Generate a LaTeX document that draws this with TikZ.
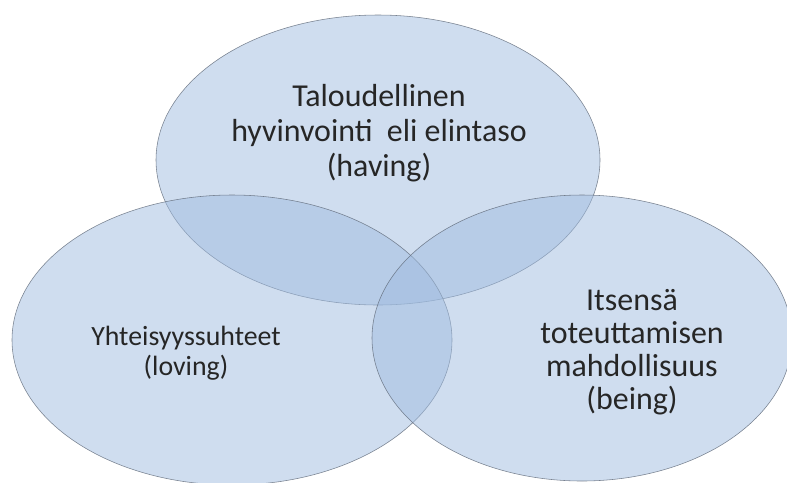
\documentclass[tikz,border=0pt]{standalone}
\usepackage{fontspec}
\setmainfont{Carlito}

\definecolor{vennfill}{RGB}{159,187,223}
\definecolor{vennline}{RGB}{95,105,120}
\definecolor{venntext}{RGB}{38,38,38}

\begin{document}
\begin{tikzpicture}[x=0.025cm,y=-0.025cm,
    venn/.style={fill=vennfill,fill opacity=0.5,draw=vennline,draw opacity=0.8,line width=0.4pt},
    venntxt/.style={align=center,inner sep=0pt,text=venntext}]

    % Fix the page to the size of the reference
    \useasboundingbox (0,0) rectangle (787,482);

    % Centres of the three sets
    \coordinate (having) at (378,160);
    \coordinate (loving) at (232,340);
    \coordinate (being) at (582,338);

    % Draw the three overlapping ellipses
    \draw[venn] (having) ellipse [x radius=222, y radius=145];
    \draw[venn] (loving) ellipse [x radius=220, y radius=145];
    \draw[venn] (being) ellipse [x radius=210, y radius=143];

    % Add the labels of the sets
    \node[venntxt,font=\fontsize{22.7}{24.8}\selectfont] (havingtxt) at (379,133)
        {Taloudellinen\\hyvinvointi~ eli elintaso\\(having)};
    \node[venntxt,font=\fontsize{19.8}{21.3}\selectfont] (lovingtxt) at (186,353)
        {Yhteisyyssuhteet\\(loving)};
    \node[venntxt,font=\fontsize{22.7}{23.4}\selectfont] (beingtxt) at (632,352)
        {Itsensä\\toteuttamisen\\mahdollisuus\\(being)};

\end{tikzpicture}
\end{document}
